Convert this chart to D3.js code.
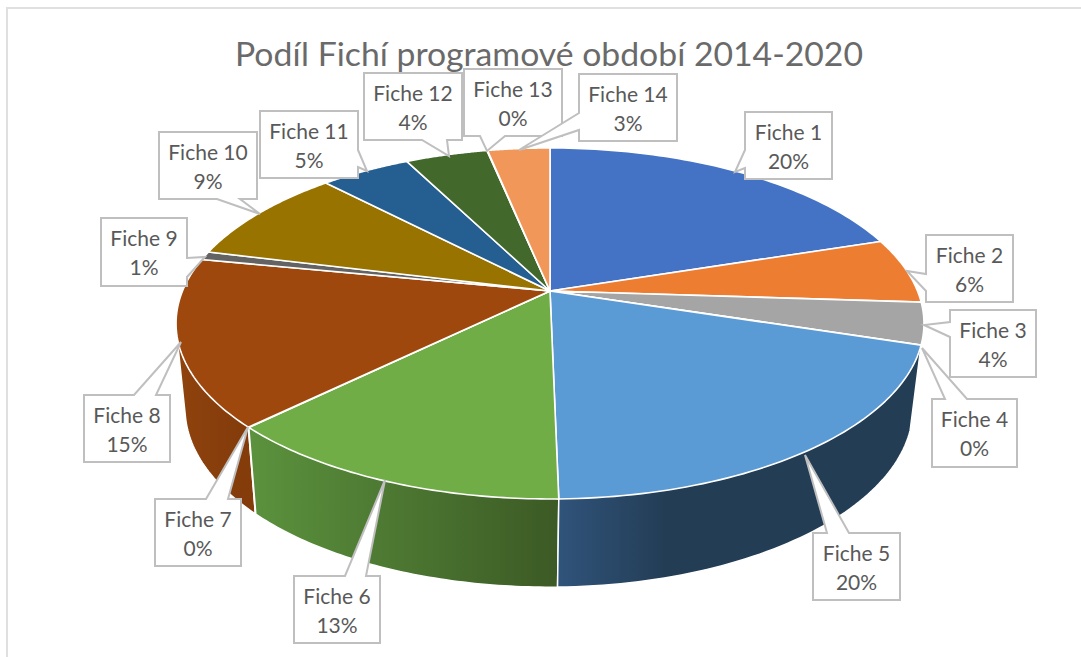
<!DOCTYPE html>
<html><head><meta charset="utf-8">
<script src="https://cdn.jsdelivr.net/npm/d3@7"></script>
<style>html,body{margin:0;padding:0;background:#fff}svg{display:block}</style>
</head><body><svg id="c" width="1081" height="657"></svg>
<script>
const titleText = "Podíl Fichí programové období 2014-2020";
const categories = ["Fiche 1","Fiche 2","Fiche 3","Fiche 4","Fiche 5","Fiche 6","Fiche 7","Fiche 8","Fiche 9","Fiche 10","Fiche 11","Fiche 12","Fiche 13","Fiche 14"];
const shares = [20,6.03,3.83,0.03,19.8,12.95,0.03,15.41,0.78,8.99,4.65,4.25,0.03,3.22];
const colors = ["#4472C4","#ED7D31","#A5A5A5","#FFC000","#5B9BD5","#70AD47","#264478","#9E480E","#636363","#997300","#255E91","#43682B","#698ED0","#F1975A"];
// callout layout: box [x0,y0,x1,y1], tail tip [x,y], tail base [side,a,b]
const calloutBoxes = [[745,112,832,179],[926,235,1013,302],[950,310,1036,377],[932,399,1017,467],[813,533,900,600],[294,576,380,643],[155,499,241,566],[84,395,170,462],[101,218,187,286],[159,132,257,199],[260,111,358,178],[364,73,462,140],[464,69,562,136],[579,74,677,141]];
const calloutTips = [[735,172],[907,271],[924,325],[922,348],[805,455],[385,480],[248,427],[181,342],[205,257],[260,214],[367,171],[449,156],[487,151],[519,150]];
const calloutBases = [["l",150,168],["l",274,291],["l",322,337],["t",945,967],["t",827,849],["t",345,366],["t",206,228],["t",134,156],["r",258,277],["b",217,240],["r",150,167],["b",422,447],["b",480,505],["l",113,130]];
const wallSlices = [4,5,6,7]; // front-facing slices whose side wall is visible
const wallStops = {4:[560,"#30537a",665,"#233d55"],5:[250,"#5b923d",557,"#3c5a25"],6:[250,"#843c0c",255,"#843c0c"],7:[178,"#8f430e",240,"#843c0b"]};

const svg = d3.select("#c");
const defs = svg.append("defs");
// perspective projection of the unit disc
const proj = (p) => (t) => {
  const x = Math.sin(t), y = -Math.cos(t), d = 1 - p.a*y;
  return [p.cx + p.R*x/d, p.cy + p.b*y/d];
};
const topP = proj({cx:550,cy:291,R:367.5,b:169.5,a:0.185});
const botP = proj({cx:549,cy:375,R:357.7,b:172.9,a:0.185});
const pie = d3.pie().sort(null).startAngle(0).endAngle(2*Math.PI);
const arcs = pie(shares);
const samples = (a0,a1) => d3.range(0,61).map(i => a0+(a1-a0)*i/60);
const line = d3.line();

// frame
svg.append("path").attr("d","M7,657V8H1081").attr("fill","none").attr("stroke","#e0e0e0").attr("stroke-width",2);

// title
svg.append("text").attr("x",549).attr("y",66).attr("text-anchor","middle")
  .attr("font-family","Lato").attr("font-weight",400).attr("font-size",33).attr("fill","#6a6a6a")
  .attr("textLength",628).attr("lengthAdjust","spacingAndGlyphs").text(titleText);

// walls
wallSlices.forEach(i=>{
  const s = wallStops[i], id = "w"+i;
  const g = defs.append("linearGradient").attr("id",id).attr("gradientUnits","userSpaceOnUse")
    .attr("x1",s[0]).attr("x2",s[2]).attr("y1",0).attr("y2",0);
  g.append("stop").attr("offset",0).attr("stop-color",s[1]);
  g.append("stop").attr("offset",1).attr("stop-color",s[3]);
});
svg.append("g").selectAll("path").data([7,6,5,4]).join("path")
  .attr("d",i=>{
    const ts = samples(arcs[i].startAngle,arcs[i].endAngle);
    return line(d3.polygonHull(ts.map(topP).concat(ts.map(botP))))+"Z";
  })
  .attr("fill",i=>`url(#w${i})`).attr("stroke","#fff").attr("stroke-width",1.5).attr("stroke-linejoin","round");

// top faces
svg.append("g").selectAll("path").data(arcs).join("path")
  .attr("d",d=>line([[550,291]].concat(samples(d.startAngle,d.endAngle).map(topP)))+"Z")
  .attr("fill",(d,i)=>colors[i]).attr("stroke","#fff").attr("stroke-width",1.6).attr("stroke-linejoin","round");

// callouts
const cg = svg.append("g").selectAll("g").data(categories).join("g");
cg.append("path").attr("d",(c,i)=>{
  const [x0,y0,x1,y1]=calloutBoxes[i],[tx,ty]=calloutTips[i],[s,a,b]=calloutBases[i];
  const pts=[[x0,y0]];
  if(s==="t")pts.push([a,y0],[tx,ty],[b,y0]);
  pts.push([x1,y0]);
  if(s==="r")pts.push([x1,a],[tx,ty],[x1,b]);
  pts.push([x1,y1]);
  if(s==="b")pts.push([b,y1],[tx,ty],[a,y1]);
  pts.push([x0,y1]);
  if(s==="l")pts.push([x0,b],[tx,ty],[x0,a]);
  return line(pts)+"Z";
}).attr("fill","#fff").attr("stroke","#bfbfbf").attr("stroke-width",2).attr("stroke-linejoin","miter");
const cx=i=>(calloutBoxes[i][0]+calloutBoxes[i][2])/2;
cg.append("text").attr("x",(c,i)=>cx(i)).attr("y",(c,i)=>calloutBoxes[i][1]+28)
  .attr("text-anchor","middle").attr("font-family","Lato").attr("font-size",21).attr("fill","#595959").text(c=>c);
cg.append("text").attr("x",(c,i)=>cx(i)).attr("y",(c,i)=>calloutBoxes[i][1]+57)
  .attr("text-anchor","middle").attr("font-family","Lato").attr("font-size",21).attr("fill","#595959").text((c,i)=>Math.round(shares[i])+"%");
</script></body></html>
